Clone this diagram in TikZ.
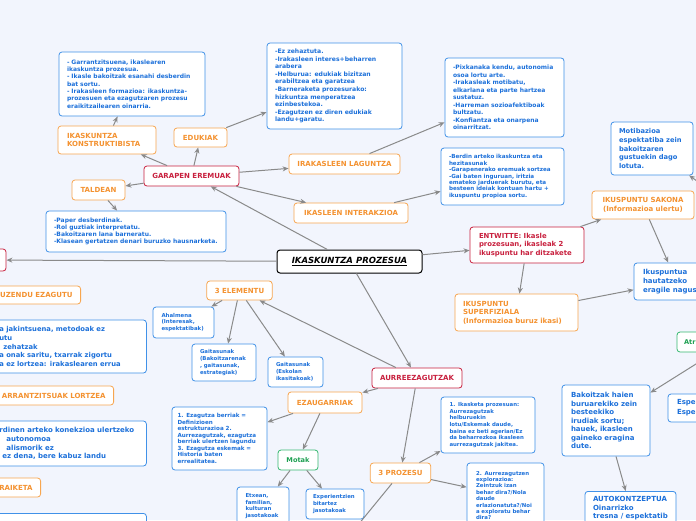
\documentclass[tikz,border=0pt]{standalone}
\usepackage{fontspec}
\setsansfont{DejaVu Sans}
\usepackage{tikz}
\usetikzlibrary{arrows.meta}

\tikzset{
  fs/.style 2 args={font=\sffamily\bfseries\fontsize{#1}{#2}\selectfont},
  mapnode/.style={fill=white, rounded corners=3pt, line width=0.8pt, inner xsep=8pt, inner ysep=3pt},
  bluebox/.style={mapnode, draw=bluelinecolor, text=bluetextcolor, align=left},
  orangebox/.style={mapnode, draw=orangecolor, text=orangetextcolor, align=center, fs={7}{8.5}},
  redbox/.style={mapnode, draw=redcolor, text=redcolor, align=center, fs={7}{8.5}},
  greenbox/.style={mapnode, draw=greencolor, text=greentextcolor, align=center, fs={6.6}{8.5}},
  centralbox/.style={mapnode, draw=black, line width=1pt, text=black, font=\sffamily\bfseries\itshape\fontsize{8.5}{10}\selectfont},
  conn/.style={->, draw=conncolor, line width=1pt}
}

\begin{document}
\begin{tikzpicture}[x=1pt, y=-1pt, >={Stealth[length=6pt,width=5pt]}]

\definecolor{mapbgcolor}{RGB}{242,245,253}
\definecolor{bluelinecolor}{RGB}{64,145,232}
\definecolor{bluetextcolor}{RGB}{28,112,218}
\definecolor{orangecolor}{RGB}{247,166,80}
\definecolor{orangetextcolor}{RGB}{244,146,48}
\definecolor{redcolor}{RGB}{200,32,62}
\definecolor{greencolor}{RGB}{54,184,112}
\definecolor{greentextcolor}{RGB}{30,160,82}
\definecolor{conncolor}{RGB}{138,138,138}

\useasboundingbox (0,0) rectangle (696,520);
\fill[mapbgcolor] (0,0) rectangle (696,520);
\clip (0,0) rectangle (696,520);

% centre
\node[centralbox, minimum width=145pt, minimum height=23pt] (central) at (349.5,261.5) {\underline{IKASKUNTZA PROZESUA}};
\node[redbox, minimum width=46pt, minimum height=22pt] (leftRed) at (-17,260) {};

% garapen eremuak
\node[redbox, minimum width=95pt, minimum height=20pt] (garapen) at (191.5,176) {GARAPEN EREMUAK};
\node[orangebox, align=left, text width=80pt, inner xsep=9pt, minimum height=28pt] (konstr) at (107,140) {IKASKUNTZA\\KONSTRUKTIBISTA};
\node[orangebox, minimum width=53pt, minimum height=19pt] (edukiak) at (200.5,137.5) {EDUKIAK};
\node[orangebox, minimum width=53pt, minimum height=20pt] (taldean) at (98.5,190) {TALDEAN};
\node[orangebox, minimum width=111pt, minimum height=20pt] (laguntza) at (344.5,164) {IRAKASLEEN LAGUNTZA};
\node[orangebox, minimum width=114pt, minimum height=20pt] (interakzioa) at (351,213) {IKASLEEN INTERAKZIOA};

\node[bluebox, fs={6}{7.3}, text width=130pt, minimum height=64pt] (gBox) at (132,84)
  {- Garrantzitsuena, ikaslearen\\ikaskuntza prozesua.\\- Ikasle bakoitzak esanahi desberdin\\bat sortu.\\- Irakasleen formazioa: ikaskuntza-\\prozesuen eta ezagutzaren prozesu\\eraikitzailearen oinarria.};
\node[bluebox, fs={6}{7.2}, text width=164pt, minimum height=41pt] (taldeBox) at (136,231.5)
  {-Paper desberdinak.\\-Rol guztiak interpretatu.\\-Bakoitzaren lana barneratu.\\-Klasean gertatzen denari buruzko hausnarketa.};
\node[bluebox, fs={6.1}{7.6}, text width=119pt, minimum height=86pt] (edukBox) at (334.5,86)
  {-Ez zehaztuta.\\-Irakasleen interes+beharren\\arabera\\-Helburua: edukiak bizitzan\\erabiltzea eta garatzea\\-Barneraketa prozesurako:\\hizkuntza menperatzea\\ezinbestekoa.\\-Ezagutzen ez diren edukiak\\landu+garatu.};
\node[bluebox, fs={6}{7.5}, text width=103pt, minimum height=79pt] (lagBox) at (504.5,97.5)
  {-Pixkanaka kendu, autonomia\\osoa lortu arte.\\-Irakasleak motibatu,\\elkarlana eta parte hartzea\\sustatuz.\\-Harreman sozioafektiboak\\bultzatu.\\-Konfiantza eta onarpena\\oinarritzat.};
\node[bluebox, fs={5.6}{6.4}, text width=107pt, minimum height=57pt] (interBox) at (502.5,176.5)
  {-Berdin arteko ikaskuntza eta\\hezitasunak\\-Garapenerako eremuak sortzea\\-Gai baten inguruan, iritzia\\emateko jarduerak burutu, eta\\besteen ideiak kontuan hartu +\\ikuspuntu propioa sortu.};

% entwitte
\node[redbox, align=left, text width=96pt, inner xsep=9pt, fs={6.9}{8.5}, minimum height=36pt] (entwitte) at (527,245)
  {ENTWITTE: Ikasle\\prozesuan, ikasleak 2\\ikuspuntu har ditzakete};
\node[orangebox, minimum width=102pt, minimum height=28pt] (sakona) at (643,205) {IKUSPUNTU SAKONA\\(Informazioa ulertu)};
\node[orangebox, align=left, text width=107pt, minimum height=37pt] (superf) at (516.5,312.5)
  {IKUSPUNTU\\SUPERFIZIALA\\(Informazioa buruz ikasi)};
\node[bluebox, fs={6.7}{8.75}, text width=66pt, minimum height=53pt] (motib) at (652,148.5)
  {Motibazioa\\espektatiba zein\\bakoitzaren\\gustuekin dago\\lotuta.};
\node[bluebox, fs={7}{9.2}, text width=67pt, inner xsep=9pt, minimum height=37pt] (ikusp) at (676.5,281.5)
  {Ikuspuntua\\hautatzeko\\eragile nagus};
\coordinate (offMotib) at (728,203.5);

% aurreezagutzak
\node[redbox, minimum width=90pt, minimum height=20pt] (aurre) at (417,378) {AURREEZAGUTZAK};
\node[orangebox, minimum width=65pt, minimum height=19pt] (elementu) at (239.5,290.5) {3 ELEMENTU};
\node[bluebox, fs={5.4}{6.7}, text width=44pt, inner xsep=8.5pt, minimum height=31pt] (ahalmena) at (183.5,322.5)
  {Ahalmena\\(Interesak,\\espektatibak)};
\node[bluebox, fs={5.4}{6.9}, text width=48pt, minimum height=37pt] (gait1) at (224,362.5)
  {Gaitasunak\\(Bakoitzarenak\\, gaitasunak,\\estrategiak)};
\node[bluebox, fs={5.4}{6.9}, text width=39pt, minimum height=30pt] (gait2) at (295.5,372)
  {Gaitasunak\\(Eskolan\\ikasitakoak)};
\node[orangebox, minimum width=74pt, minimum height=21pt] (ezaug) at (325,402.5) {EZAUGARRIAK};
\node[bluebox, fs={5.6}{6.5}, text width=84pt, inner xsep=5.5pt, minimum height=63pt] (ezBox) at (219.5,438.5)
  {1. Ezagutza berriak =\\Definizioen\\estrukturazioa 2.\\Aurrezagutzak, ezagutza\\berriak ulertzen lagundu\\3. Ezagutza eskemak =\\Historia baten\\errealitatea.};
\node[greenbox, minimum width=40pt, minimum height=20pt] (motak) at (298,460) {Motak};
\node[bluebox, fs={5.4}{6.7}, text width=35pt, inner xsep=8.5pt, minimum height=38pt] (etxean) at (263,506)
  {Etxean,\\familian,\\kulturan\\jasotakoak};
\node[bluebox, fs={5.4}{6.6}, text width=44pt, inner xsep=7pt, minimum height=30pt] (exper) at (335,504)
  {Experientzien\\bitartez\\jasotakoak};
\node[orangebox, minimum width=59pt, minimum height=20pt] (prozesu) at (400.5,473) {3 PROZESU};
\node[bluebox, fs={5.4}{6.7}, text width=77pt, inner xsep=8.5pt, minimum height=56pt] (proz1) at (488,425)
  {1. Ikasketa prozesuan:\\Aurrezagutzak\\helburuekin\\lotu/Eskemak daude,\\baina ez beti agerian/Ez\\da beharrezkoa ikasleen\\aurrezagutzak jakitea.};
\node[bluebox, fs={5.4}{6.4}, text width=59pt, inner xsep=9pt, minimum height=65pt] (proz2) at (505.5,495.5)
  {2. Aurrezagutzen\\explorazioa:\\Zeintzuk izan\\behar dira?/Nola\\daude\\erlazionatuta?/Noi\\a exploratu behar\\dira?};
\coordinate (offProz) at (346.5,539);

% right edge
\node[greenbox, align=left, text width=94pt, inner xsep=7pt, minimum height=20pt] (atr) at (731,342) {Atr};
\node[bluebox, fs={7}{10}, text width=62pt, inner xsep=9pt, minimum height=28pt] (espe) at (708,408) {Espe\\Espe};
\node[bluebox, fs={7}{8.5}, text width=70pt, inner xsep=9pt, minimum height=71pt] (bakoitz) at (606,420.5)
  {Bakoitzak haien\\buruarekiko zein\\besteekiko\\irudiak sortu;\\hauek, ikasleen\\gaineko eragina\\dute.};
\node[bluebox, fs={7}{8.5}, text width=75pt, inner ysep=5pt, anchor=north] (autok) at (630.5,491)
  {AUTOKONTZEPTUA\\Oinarrizko\\tresna / espektatib};

% left edge
\node[orangebox, align=right, text width=140pt, minimum height=18pt, anchor=east] (zuzendu) at (81,295) {UZENDU EZAGUTU};
\node[bluebox, fs={6.8}{8.6}, text width=139pt, minimum height=53pt, anchor=west] (leftBlue1) at (-9,346.5)
  {a jakintsuena, metodoak ez\\utu\\\hspace*{4pt}zehatzak\\a onak saritu, txarrak zigortu\\a ez lortzea: irakaslearen errua};
\node[orangebox, align=right, text width=140pt, minimum height=19pt, anchor=east] (garrantz) at (114,395.5) {ARRANTZITSUAK LORTZEA};
\node[bluebox, fs={7}{8.7}, text width=139pt, minimum height=45pt, anchor=west] (leftBlue2) at (-9,443.5)
  {rdinen arteko konekzioa ulertzeko\\\hspace*{7pt}autonomoa\\\hspace*{7pt}alismorik ez\\\hspace*{3pt}ez dena, bere kabuz landu};
\node[orangebox, align=right, text width=80pt, minimum height=19pt, anchor=east] (eraiketa) at (41,487.5) {RAIKETA};
\node[bluebox, text width=139pt, minimum height=30pt, anchor=north west] (leftBlue3) at (-9,513) {};

% connectors
\draw[conn] (central) -- (garapen);
\draw[conn] (central) -- (leftRed);
\draw[conn] (central) -- (entwitte);
\draw[conn] (central) -- (aurre);
\draw[conn] (garapen) -- (konstr);
\draw[conn] (garapen) -- (edukiak);
\draw[conn] (garapen) -- (taldean);
\draw[conn] (garapen) -- (laguntza);
\draw[conn] (garapen) -- (interakzioa);
\draw[conn] (konstr) -- (gBox);
\draw[conn] (taldean) -- (taldeBox);
\draw[conn] (edukiak) -- (edukBox);
\draw[conn] (laguntza) -- (lagBox);
\draw[conn] (interakzioa) -- (interBox);
\draw[conn] (entwitte) -- (sakona);
\draw[conn] (entwitte) -- (superf);
\draw[conn] (sakona) -- (ikusp);
\draw[conn] (superf) -- (ikusp);
\draw[conn] (offMotib) -- (motib);
\draw[conn] (aurre) -- (elementu);
\draw[conn] (elementu) -- (ahalmena);
\draw[conn] (elementu) -- (gait1);
\draw[conn] (elementu) -- (gait2);
\draw[conn] (aurre) -- (ezaug);
\draw[conn] (ezaug) -- (ezBox);
\draw[conn] (ezaug) -- (motak);
\draw[conn] (motak) -- (etxean);
\draw[conn] (motak) -- (exper);
\draw[conn] (aurre) -- (prozesu);
\draw[conn] (prozesu) -- (proz1);
\draw[conn] (prozesu) -- (proz2);
\draw[conn] (prozesu) -- (offProz);
\draw[conn] (atr) -- (bakoitz);
\draw[conn] (bakoitz) -- (autok);

\end{tikzpicture}
\end{document}
